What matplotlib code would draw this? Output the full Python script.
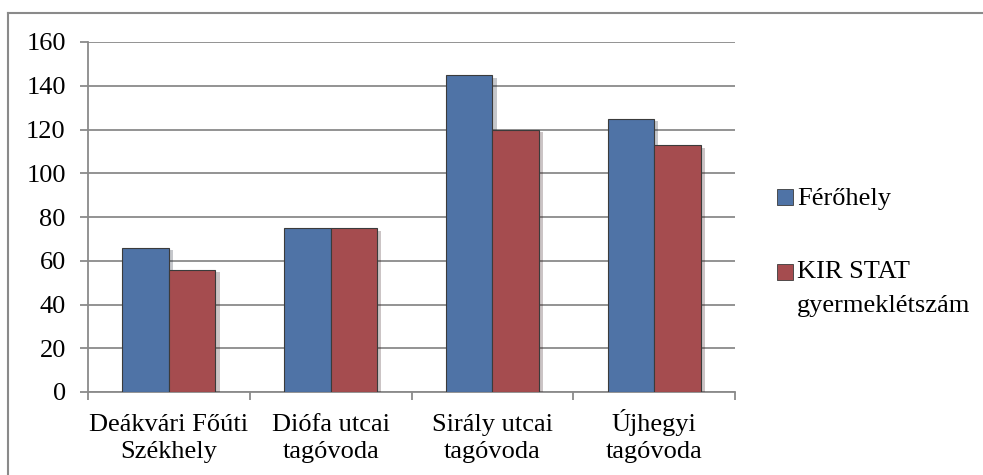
import matplotlib.pyplot as plt
import matplotlib.patheffects as pe
import matplotlib.transforms as mtransforms
from matplotlib.lines import Line2D
from matplotlib.patches import Rectangle
import numpy as np

# adatok
categories = [("Deákvári Főúti", "Székhely"), ("Diófa utcai", "tagóvoda"),
              ("Sirály utcai", "tagóvoda"), ("Újhegyi", "tagóvoda")]
ferohely = [66, 75, 145, 125]
kir_stat = [56, 75, 120, 113]
series_names = [("Férőhely",), ("KIR STAT", "gyermeklétszám")]
yticks = [0, 20, 40, 60, 80, 100, 120, 140, 160]

BLUE = "#4f73a6"
RED = "#a54c4f"
EDGE = "#3b3b3b"
GRID = "#8a8a8a"
W, H = 983, 475   # kep merete pixelben

plt.rcParams["font.family"] = "serif"
plt.rcParams["font.serif"] = ["Liberation Serif", "DejaVu Serif"]
plt.rcParams["font.size"] = 19

fig = plt.figure(figsize=(W / 100, H / 100), dpi=100)
ax = fig.add_axes([88 / W, 1 - 392 / H, (735 - 88) / W, (392 - 42) / H])

x = np.arange(len(categories))
w = 0.2875
shadow = [pe.SimplePatchShadow(offset=(3, -2), alpha=0.25), pe.Normal()]
ax.bar(x - w / 2, ferohely, w, color=BLUE, edgecolor=EDGE, lw=0.8,
       zorder=3, path_effects=shadow)
ax.bar(x + w / 2, kir_stat, w, color=RED, edgecolor=EDGE, lw=0.8,
       zorder=3, path_effects=shadow)

ax.set_xlim(-0.5, len(categories) - 0.5)
ax.set_ylim(0, 160)
ax.set_yticks(yticks)
ax.yaxis.grid(True, color=GRID, lw=1.3, zorder=0)
ax.set_axisbelow(True)

# osztasok a kategoriak hatarain, feliratok soronkent (alapvonalra igazitva)
ax.set_xticks(np.arange(-0.5, len(categories)))
ax.set_xticklabels([])
ax.tick_params(axis="x", length=6, width=1.3, color=GRID)
ax.tick_params(axis="y", length=6, width=1.3, color=GRID, pad=10)

trans = mtransforms.blended_transform_factory(ax.transData, fig.transFigure)
for i, (l1, l2) in enumerate(categories):
    ax.text(i, 1 - 431 / H, l1, transform=trans, ha="center", va="baseline")
    ax.text(i, 1 - 458 / H, l2, transform=trans, ha="center", va="baseline")

for s in ("top", "right"):
    ax.spines[s].set_visible(False)
for s in ("left", "bottom"):
    ax.spines[s].set_color(GRID)
    ax.spines[s].set_linewidth(1.3)

# jelmagyarazat kezzel: negyzet + sorok
leg_colors = [BLUE, RED]
sq_top = [189, 264]            # negyzet teteje (px)
base = [[205], [278, 312]]     # szoveg alapvonalak (px)
for col, top, lines, bl in zip(leg_colors, sq_top, series_names, base):
    fig.add_artist(Rectangle((777 / W, 1 - (top + 16) / H), 16 / W, 16 / H,
                             transform=fig.transFigure, facecolor=col,
                             edgecolor=EDGE, lw=0.6))
    for txt, b in zip(lines, bl):
        fig.text(797 / W, 1 - b / H, txt, ha="left", va="baseline")

# keret (csak bal es felso latszik)
fig.add_artist(Line2D([7.5 / W, 1], [1 - 13 / H, 1 - 13 / H],
                      transform=fig.transFigure, color=GRID, lw=1.5))
fig.add_artist(Line2D([7.5 / W, 7.5 / W], [0, 1 - 13 / H],
                      transform=fig.transFigure, color=GRID, lw=1.5))

fig.savefig("out.png", dpi=100)
